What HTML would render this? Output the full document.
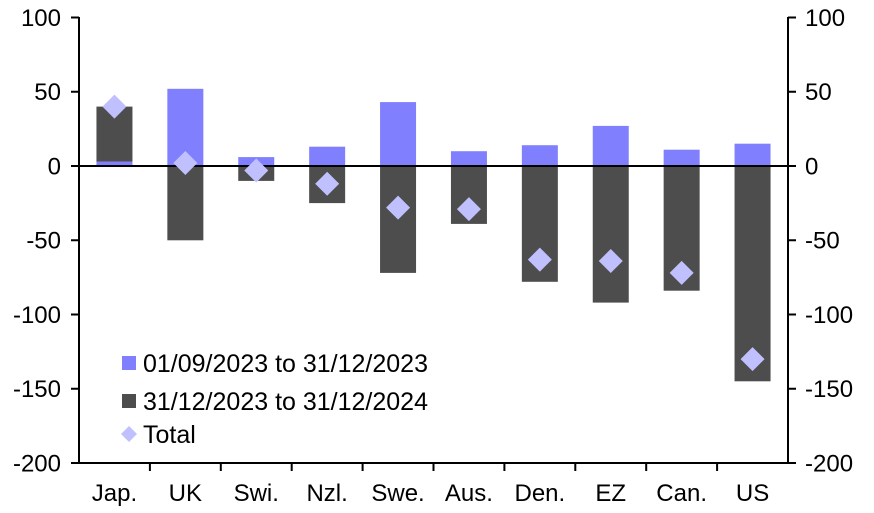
<!DOCTYPE html><html><head><style>body{margin:0;background:#fff}</style></head><body>
<svg width="874" height="508" xmlns="http://www.w3.org/2000/svg" font-family="Liberation Sans, sans-serif" font-size="24">
<g fill="#8080ff">
<rect x="96.45" y="161.5" width="36" height="4.5"/>
<rect x="167.35" y="88.8" width="36" height="77.2"/>
<rect x="238.25" y="157.1" width="36" height="8.9"/>
<rect x="309.15" y="146.7" width="36" height="19.3"/>
<rect x="380.05" y="102.1" width="36" height="63.9"/>
<rect x="450.95" y="151.2" width="36" height="14.8"/>
<rect x="521.85" y="145.2" width="36" height="20.8"/>
<rect x="592.75" y="125.9" width="36" height="40.1"/>
<rect x="663.65" y="149.7" width="36" height="16.3"/>
<rect x="734.55" y="143.7" width="36" height="22.3"/>
</g>
<g fill="#4d4d4d">
<rect x="96.45" y="106.6" width="36" height="54.9"/>
<rect x="167.35" y="166" width="36" height="74.3"/>
<rect x="238.25" y="166" width="36" height="14.9"/>
<rect x="309.15" y="166" width="36" height="37.1"/>
<rect x="380.05" y="166" width="36" height="106.9"/>
<rect x="450.95" y="166" width="36" height="57.9"/>
<rect x="521.85" y="166" width="36" height="115.8"/>
<rect x="592.75" y="166" width="36" height="136.6"/>
<rect x="663.65" y="166" width="36" height="124.7"/>
<rect x="734.55" y="166" width="36" height="215.3"/>
</g>
<g stroke="#000" stroke-width="2">
<line x1="79" y1="166" x2="788" y2="166"/>
<line x1="79" y1="17" x2="79" y2="463"/>
<line x1="788" y1="17" x2="788" y2="463"/>
<line x1="78" y1="463" x2="789" y2="463"/>
<path d="M71 17.5H79M71 91.75H79M71 166H79M71 240.25H79M71 314.5H79M71 388.75H79M71 463H79M788 17.5H796M788 91.75H796M788 166H796M788 240.25H796M788 314.5H796M788 388.75H796M788 463H796"/>
<path d="M149.9 463V471M220.8 463V471M291.7 463V471M362.6 463V471M433.5 463V471M504.4 463V471M575.3 463V471M646.2 463V471M717.1 463V471"/>
</g>
<g fill="#c0c0ff">
<polygon points="114.45,94.6 126.45,106.6 114.45,118.6 102.45,106.6"/>
<polygon points="185.35,151 197.35,163 185.35,175 173.35,163"/>
<polygon points="256.25,158.5 268.25,170.5 256.25,182.5 244.25,170.5"/>
<polygon points="327.15,171.8 339.15,183.8 327.15,195.8 315.15,183.8"/>
<polygon points="398.05,195.6 410.05,207.6 398.05,219.6 386.05,207.6"/>
<polygon points="468.95,197.1 480.95,209.1 468.95,221.1 456.95,209.1"/>
<polygon points="539.85,247.6 551.85,259.6 539.85,271.6 527.85,259.6"/>
<polygon points="610.75,249 622.75,261 610.75,273 598.75,261"/>
<polygon points="681.65,260.9 693.65,272.9 681.65,284.9 669.65,272.9"/>
<polygon points="752.55,347.1 764.55,359.1 752.55,371.1 740.55,359.1"/>
</g>
<g text-anchor="end">
<text x="61" y="26">100</text><text x="61" y="100">50</text><text x="61" y="174.5">0</text><text x="61" y="248.5">-50</text><text x="61" y="323">-100</text><text x="61" y="397">-150</text><text x="61" y="471.5">-200</text>
</g>
<g>
<text x="805" y="26">100</text><text x="805" y="100">50</text><text x="805" y="174.5">0</text><text x="805" y="248.5">-50</text><text x="805" y="323">-100</text><text x="805" y="397">-150</text><text x="805" y="471.5">-200</text>
</g>
<g text-anchor="middle">
<text x="114.45" y="501">Jap.</text><text x="185.35" y="501">UK</text><text x="256.25" y="501">Swi.</text><text x="327.15" y="501">Nzl.</text><text x="398.05" y="501">Swe.</text><text x="468.95" y="501">Aus.</text><text x="539.85" y="501">Den.</text><text x="610.75" y="501">EZ</text><text x="681.65" y="501">Can.</text><text x="752.55" y="501">US</text>
</g>
<g font-size="25">
<rect x="122" y="356" width="14" height="14" fill="#8080ff"/><text x="143" y="372">01/09/2023 to 31/12/2023</text>
<rect x="122" y="394" width="14" height="14" fill="#4d4d4d"/><text x="143" y="410">31/12/2023 to 31/12/2024</text>
<polygon points="129,426 137,434 129,442 121,434" fill="#c0c0ff"/><text x="143" y="443">Total</text>
</g>
</svg></body></html>
